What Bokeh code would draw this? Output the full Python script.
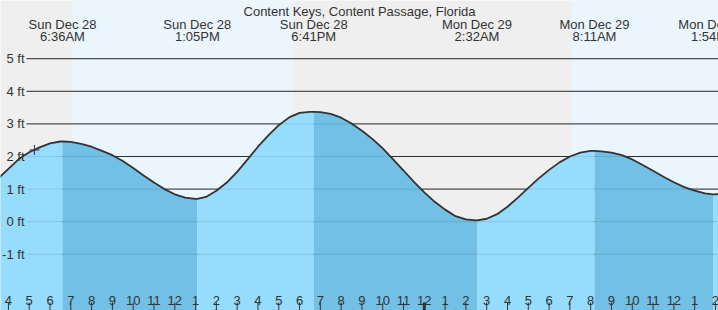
from bokeh.plotting import figure
from bokeh.models import Range1d
from bokeh.core.properties import value
from bokeh.embed import file_html
from bokeh.resources import INLINE

# ---------------- data (hours counted from Sun Dec 28 00:00) ----------------
title = "Content Keys, Content Passage, Florida"

curve_hours = [3.5, 4.0, 4.5, 5.0, 5.5, 6.0, 6.5, 7.0, 7.5, 8.0, 8.5, 9.0, 9.5, 10.0,
               10.5, 11.0, 11.5, 12.0, 12.5, 13.0, 13.5, 14.0, 14.5, 15.0, 15.5, 16.0,
               16.5, 17.0, 17.5, 18.0, 18.5, 19.0, 19.5, 20.0, 20.5, 21.0, 21.5, 22.0,
               22.5, 23.0, 23.5, 24.0, 24.5, 25.0, 25.5, 26.0, 26.5, 27.0, 27.5, 28.0,
               28.5, 29.0, 29.5, 30.0, 30.5, 31.0, 31.5, 32.0, 32.5, 33.0, 33.5, 34.0,
               34.5, 35.0, 35.5, 36.0, 36.5, 37.0, 37.5, 38.0, 38.5]
curve_ft = [1.32, 1.62, 1.92, 2.13, 2.28, 2.40, 2.46, 2.45, 2.39, 2.30, 2.17, 2.04, 1.86, 1.65,
            1.42, 1.20, 1.00, 0.84, 0.74, 0.70, 0.76, 0.95, 1.20, 1.53, 1.91, 2.30,
            2.65, 2.96, 3.20, 3.34, 3.37, 3.36, 3.31, 3.19, 3.01, 2.79, 2.54, 2.25,
            1.91, 1.57, 1.22, 0.90, 0.61, 0.37, 0.17, 0.07, 0.04, 0.09, 0.23, 0.46,
            0.74, 1.04, 1.33, 1.59, 1.82, 2.00, 2.12, 2.17, 2.16, 2.12, 2.04, 1.91,
            1.74, 1.56, 1.38, 1.21, 1.06, 0.95, 0.87, 0.84, 0.88]

event_hours = [6.6, 13.083, 18.683, 26.533, 32.183, 37.9]
event_ft = [2.46, 0.70, 3.37, 0.04, 2.17, 0.84]
event_kind = ["high", "low", "high", "low", "high", "low"]
event_day = ["Sun Dec 28", "Sun Dec 28", "Sun Dec 28", "Mon Dec 29", "Mon Dec 29", "Mon Dec 29"]
event_time = ["6:36AM", "1:05PM", "6:41PM", "2:32AM", "8:11AM", "1:54PM"]

sunrise_hours = [7.08, 31.08]
sunset_hours = [17.71, 41.73]

now_hour = 5.25
now_ft = 2.20

level_ft = [5, 4, 3, 2, 1, 0, -1]
level_labels = ["5 ft", "4 ft", "3 ft", "2 ft", "1 ft", "0 ft", "-1 ft"]

tick_hours = list(range(4, 39))
tick_labels = ["4", "5", "6", "7", "8", "9", "10", "11", "12", "1", "2", "3", "4", "5", "6",
               "7", "8", "9", "10", "11", "12", "1", "2", "3", "4", "5", "6", "7", "8", "9",
               "10", "11", "12", "1", "2"]
midnight_hours = [24]

# ---------------- layout ----------------
W, H = 718, 310
X0, X1 = 3.619, 38.146
Y0, Y1 = -2.724, 6.785


def dx(px):
    return X0 + px * (X1 - X0) / W


def dy(px):
    return Y1 - px * (Y1 - Y0) / H


FONT = value("Liberation Sans")
TXT = "#333333"
LIGHT = "#96dcfd"
DARK = "#72c0e5"

p = figure(width=W, height=H, x_range=Range1d(X0, X1), y_range=Range1d(Y0, Y1),
           output_backend="svg", toolbar_location=None,
           x_axis_location=None, y_axis_location=None, min_border=0)
p.xgrid.visible = False
p.ygrid.visible = False
p.outline_line_color = None
p.background_fill_color = "#efefef"
p.border_fill_color = "#efefef"

# daylight
p.quad(left=sunrise_hours, right=sunset_hours, bottom=Y0 - 5, top=Y1 + 5,
       fill_color="#ebf5fe", line_color=None)

# grid lines (dark, behind the water)
p.segment(x0=[dx(26)] * len(level_ft), x1=[X1 + 1] * len(level_ft),
          y0=level_ft, y1=level_ft, line_color="#333333", line_width=1)

# merged curve
pts = sorted(zip(curve_hours + event_hours, curve_ft + event_ft))
ts = [a for a, b in pts]
hs = [b for a, b in pts]

bounds = [ts[0]] + event_hours + [ts[-1]]
kinds = ["low"] + event_kind
for i in range(len(bounds) - 1):
    a, b = bounds[i], bounds[i + 1]
    seg_t = [t for t in ts if a <= t <= b]
    seg_h = [h for t, h in zip(ts, hs) if a <= t <= b]
    col = DARK if kinds[i] == "high" else LIGHT
    p.varea(x=seg_t, y1=[Y0 - 1] * len(seg_t), y2=seg_h, fill_color=col)

# faint grid lines over the water
p.segment(x0=[dx(26)] * len(level_ft), x1=[X1 + 1] * len(level_ft),
          y0=level_ft, y1=level_ft, line_color="#000000", line_alpha=0.1, line_width=1)

p.line(ts, hs, line_color="#333333", line_width=1.8)

p.scatter(x=[now_hour], y=[now_ft], marker="cross", size=10,
          line_color="#333333", line_width=1)

# texts
p.text(x=[dx(W / 2)], y=[dy(11)], text=[title], text_align="center",
       text_baseline="alphabetic", text_font=FONT, text_font_size="13px", text_color=TXT)
p.text(x=event_hours, y=[dy(24.3)] * len(event_hours), text=event_day, text_align="center",
       text_baseline="alphabetic", text_font=FONT, text_font_size="13px", text_color=TXT)
p.text(x=event_hours, y=[dy(36)] * len(event_hours), text=event_time, text_align="center",
       text_baseline="alphabetic", text_font=FONT, text_font_size="13px", text_color=TXT)
p.text(x=[dx(24)] * len(level_ft), y=level_ft, text=level_labels, text_align="right",
       text_baseline="middle", text_font=FONT, text_font_size="13px", text_color=TXT)

# hour ticks
p.segment(x0=tick_hours, x1=tick_hours, y0=[dy(302)] * len(tick_hours),
          y1=[Y0 - 1] * len(tick_hours), line_color="#333333", line_width=1)
p.segment(x0=midnight_hours, x1=midnight_hours, y0=[dy(302)], y1=[Y0 - 1],
          line_color="#333333", line_width=3)
p.text(x=tick_hours, y=[dy(300)] * len(tick_hours), text=tick_labels, text_align="center",
       text_baseline="alphabetic", text_font=FONT, text_font_size="13px", text_color=TXT)

open("out.html", "w").write(file_html(p, INLINE))
